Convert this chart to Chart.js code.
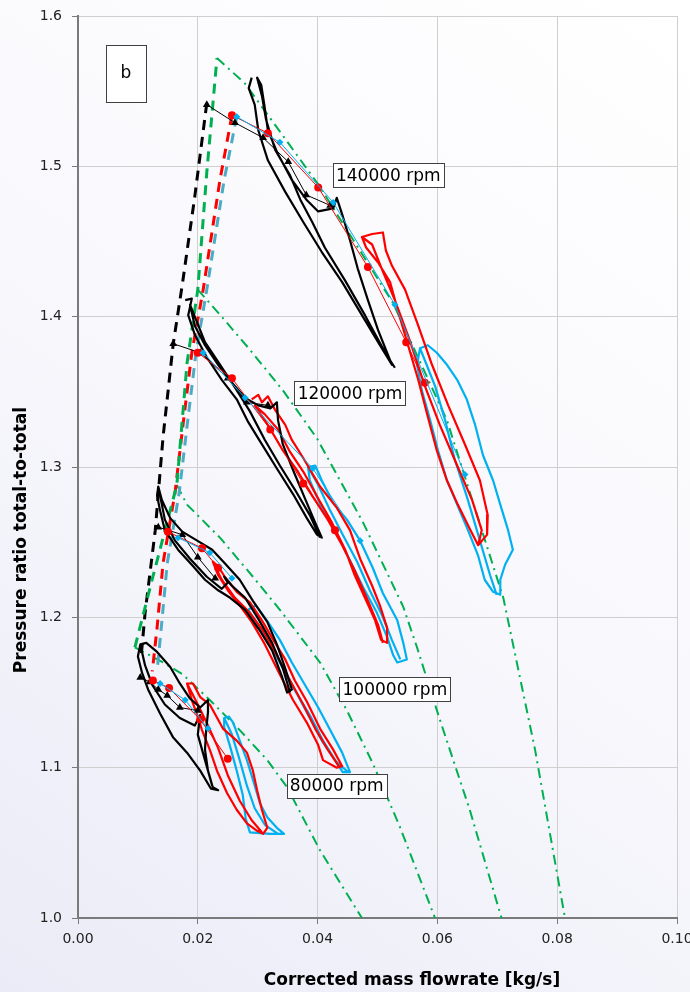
<!DOCTYPE html>
<html><head><meta charset="utf-8">
<script src="https://cdn.jsdelivr.net/npm/chart.js@4.4.1/dist/chart.umd.min.js"></script>
<style>html,body{margin:0;padding:0;background:#fff}#wrap{width:690px;height:992px}</style>
</head><body><div id="wrap"><canvas id="c" width="690" height="992"></canvas></div>
<script>
// ---- tick labels / text ----
const xTickValues = [0, 0.02, 0.04, 0.06, 0.08, 0.10];
const yTickValues = [1.0, 1.1, 1.2, 1.3, 1.4, 1.5, 1.6];
const xTitle = 'Corrected mass flowrate [kg/s]';
const yTitle = 'Pressure ratio total-to-total';
const rpmText = ['140000 rpm', '120000 rpm', '100000 rpm', '80000 rpm'];
const rpmX = [0.0518, 0.0454, 0.0529, 0.0432];
const rpmY = [1.494, 1.349, 1.152, 1.088];

// ---- speed lines (green dash-dot) ----
const speed80 = [[0.0095,1.180],[0.0142,1.170],[0.0175,1.162],[0.0220,1.145],[0.0270,1.125],[0.0316,1.105],[0.0349,1.087],[0.0404,1.045],[0.0474,1.000]];
const speed100 = [[0.0165,1.288],[0.0182,1.275],[0.0237,1.253],[0.0292,1.227],[0.0337,1.205],[0.0404,1.170],[0.0449,1.138],[0.0492,1.103],[0.0538,1.060],[0.0596,1.000]];
const speed120 = [[0.0200,1.418],[0.0242,1.399],[0.0287,1.378],[0.0342,1.351],[0.0399,1.319],[0.0476,1.263],[0.0543,1.207],[0.0566,1.180],[0.0604,1.132],[0.0654,1.072],[0.0707,1.000]];
const speed140 = [[0.0232,1.572],[0.0279,1.555],[0.0401,1.488],[0.0526,1.409],[0.0616,1.331],[0.0710,1.213],[0.0763,1.112],[0.0813,1.000]];

// ---- surge lines (dashed) ----
const surgeGreen = [[0.0095,1.180],[0.0125,1.227],[0.0165,1.288],[0.0182,1.369],[0.0200,1.418],[0.0215,1.496],[0.0232,1.572]];
const surgeBlack = [[0.0215,1.542],[0.0195,1.480],[0.0174,1.421],[0.0159,1.382],[0.0142,1.320],[0.0135,1.287],[0.0129,1.258],[0.0112,1.203],[0.0105,1.172]];
const surgeRed = [[0.0257,1.534],[0.0237,1.491],[0.0209,1.418],[0.0190,1.376],[0.0175,1.327],[0.0162,1.283],[0.0142,1.236],[0.0132,1.193],[0.0124,1.164]];
const surgeBlue = [[0.0265,1.533],[0.0244,1.491],[0.0215,1.418],[0.0197,1.376],[0.0182,1.327],[0.0169,1.283],[0.0149,1.236],[0.0139,1.193],[0.0132,1.164]];

// ---- steady-state points ----
const black140 = [[0.0215,1.541],[0.0262,1.529],[0.0309,1.519],[0.0351,1.503],[0.0381,1.481],[0.0421,1.474]];
const red140 = [[0.0257,1.534],[0.0317,1.522],[0.0401,1.486],[0.0484,1.433],[0.0548,1.383],[0.0579,1.356]];
const blue140 = [[0.0265,1.533],[0.0337,1.516],[0.0426,1.476],[0.0529,1.408],[0.0646,1.295]];
const black120 = [[0.0159,1.382],[0.0204,1.376],[0.0250,1.359],[0.0282,1.343],[0.0317,1.341]];
const red120 = [[0.0200,1.376],[0.0257,1.359],[0.0321,1.325],[0.0376,1.289],[0.0429,1.258]];
const blue120 = [[0.0209,1.376],[0.0279,1.346],[0.0392,1.299],[0.0471,1.251]];
const black100 = [[0.0134,1.260],[0.0174,1.255],[0.0200,1.240],[0.0229,1.226]];
const red100 = [[0.0150,1.257],[0.0207,1.246],[0.0234,1.233]];
const blue100 = [[0.0167,1.253],[0.0220,1.243],[0.0257,1.226]];
const black80 = [[0.0104,1.160],[0.0120,1.157],[0.0134,1.152],[0.0149,1.148],[0.0170,1.140],[0.0200,1.138]];
const red80 = [[0.0125,1.158],[0.0152,1.153],[0.0204,1.132],[0.0250,1.106]];
const blue80 = [[0.0137,1.156],[0.0179,1.145],[0.0217,1.126]];

// ---- pulsating-flow loops ----
const loopBlack140 = [[0.0290,1.559],[0.0285,1.552],[0.0295,1.541],[0.0301,1.524],[0.0317,1.504],[0.0346,1.483],[0.0376,1.463],[0.0407,1.443],[0.0441,1.423],[0.0471,1.403],[0.0501,1.383],[0.0524,1.368],[0.0518,1.374],[0.0501,1.391],[0.0484,1.411],[0.0467,1.432],[0.0454,1.451],[0.0441,1.468],[0.0432,1.479],[0.0426,1.472],[0.0401,1.470],[0.0381,1.478],[0.0357,1.491],[0.0334,1.508],[0.0317,1.524],[0.0311,1.541],[0.0306,1.554],[0.0299,1.559],[0.0307,1.547],[0.0314,1.531],[0.0329,1.511],[0.0354,1.494],[0.0371,1.478],[0.0391,1.463],[0.0412,1.446],[0.0446,1.424],[0.0479,1.401],[0.0513,1.376],[0.0529,1.366]];
const loopRed140 = [[0.0474,1.453],[0.0491,1.455],[0.0509,1.456],[0.0514,1.444],[0.0524,1.434],[0.0546,1.418],[0.0568,1.394],[0.0591,1.368],[0.0618,1.341],[0.0646,1.315],[0.0671,1.291],[0.0684,1.268],[0.0683,1.255],[0.0668,1.248],[0.0654,1.259],[0.0634,1.275],[0.0616,1.291],[0.0599,1.311],[0.0583,1.335],[0.0568,1.358],[0.0551,1.381],[0.0534,1.404],[0.0521,1.423],[0.0501,1.436],[0.0481,1.446],[0.0474,1.453],[0.0491,1.448],[0.0508,1.431],[0.0529,1.411],[0.0554,1.384],[0.0579,1.354],[0.0604,1.328],[0.0633,1.301],[0.0658,1.278],[0.0674,1.258],[0.0668,1.248]];
const loopBlue140 = [[0.0571,1.379],[0.0584,1.381],[0.0599,1.376],[0.0616,1.368],[0.0633,1.358],[0.0649,1.345],[0.0663,1.328],[0.0676,1.308],[0.0693,1.291],[0.0705,1.275],[0.0718,1.258],[0.0726,1.245],[0.0713,1.235],[0.0705,1.225],[0.0705,1.215],[0.0693,1.217],[0.0679,1.225],[0.0668,1.241],[0.0651,1.258],[0.0633,1.275],[0.0616,1.291],[0.0601,1.311],[0.0588,1.331],[0.0574,1.351],[0.0566,1.368],[0.0571,1.379],[0.0579,1.371],[0.0596,1.354],[0.0613,1.331],[0.0629,1.305],[0.0651,1.278],[0.0671,1.251],[0.0688,1.228],[0.0699,1.215]];
const loopBlack120 = [[0.0179,1.411],[0.0190,1.412],[0.0184,1.401],[0.0195,1.388],[0.0215,1.373],[0.0240,1.358],[0.0265,1.345],[0.0284,1.330],[0.0304,1.317],[0.0332,1.299],[0.0359,1.282],[0.0382,1.266],[0.0399,1.255],[0.0407,1.253],[0.0396,1.263],[0.0379,1.279],[0.0359,1.298],[0.0342,1.315],[0.0334,1.331],[0.0332,1.343],[0.0321,1.339],[0.0301,1.341],[0.0279,1.346],[0.0257,1.356],[0.0234,1.368],[0.0212,1.381],[0.0195,1.394],[0.0187,1.408],[0.0197,1.398],[0.0212,1.383],[0.0234,1.370],[0.0262,1.353],[0.0287,1.337],[0.0312,1.318],[0.0337,1.301],[0.0362,1.285],[0.0387,1.268],[0.0404,1.253]];
const loopRed120 = [[0.0290,1.345],[0.0301,1.348],[0.0307,1.343],[0.0317,1.347],[0.0329,1.338],[0.0346,1.328],[0.0357,1.318],[0.0376,1.306],[0.0404,1.287],[0.0432,1.273],[0.0454,1.258],[0.0471,1.239],[0.0491,1.221],[0.0504,1.208],[0.0516,1.193],[0.0516,1.183],[0.0506,1.185],[0.0496,1.198],[0.0479,1.213],[0.0462,1.228],[0.0446,1.245],[0.0424,1.263],[0.0401,1.279],[0.0376,1.297],[0.0354,1.310],[0.0334,1.325],[0.0312,1.335],[0.0295,1.341],[0.0317,1.328],[0.0342,1.311],[0.0367,1.297],[0.0391,1.281],[0.0417,1.265],[0.0441,1.248],[0.0462,1.231],[0.0484,1.211],[0.0501,1.195],[0.0509,1.183]];
const loopBlue120 = [[0.0384,1.300],[0.0396,1.301],[0.0407,1.291],[0.0426,1.276],[0.0449,1.265],[0.0471,1.251],[0.0492,1.233],[0.0509,1.216],[0.0533,1.198],[0.0543,1.183],[0.0549,1.172],[0.0533,1.170],[0.0526,1.175],[0.0516,1.187],[0.0499,1.203],[0.0476,1.220],[0.0454,1.238],[0.0432,1.256],[0.0409,1.271],[0.0387,1.291],[0.0384,1.300],[0.0401,1.288],[0.0421,1.271],[0.0442,1.255],[0.0466,1.237],[0.0487,1.218],[0.0508,1.201],[0.0524,1.185],[0.0538,1.172]];
const loopBlack100 = [[0.0134,1.287],[0.0140,1.278],[0.0154,1.266],[0.0174,1.257],[0.0199,1.251],[0.0224,1.245],[0.0245,1.236],[0.0270,1.225],[0.0292,1.211],[0.0316,1.197],[0.0332,1.182],[0.0346,1.166],[0.0357,1.152],[0.0349,1.150],[0.0341,1.160],[0.0324,1.178],[0.0304,1.191],[0.0279,1.205],[0.0254,1.213],[0.0234,1.218],[0.0212,1.225],[0.0190,1.235],[0.0167,1.245],[0.0145,1.258],[0.0137,1.271],[0.0132,1.281],[0.0134,1.287],[0.0145,1.265],[0.0162,1.251],[0.0187,1.239],[0.0215,1.227],[0.0240,1.219],[0.0250,1.223],[0.0244,1.227],[0.0257,1.221],[0.0279,1.213],[0.0301,1.199],[0.0324,1.183],[0.0342,1.166],[0.0354,1.150]];
const loopRed100 = [[0.0225,1.237],[0.0234,1.234],[0.0245,1.227],[0.0265,1.217],[0.0287,1.210],[0.0307,1.198],[0.0326,1.185],[0.0346,1.172],[0.0362,1.158],[0.0382,1.144],[0.0404,1.126],[0.0426,1.112],[0.0441,1.101],[0.0432,1.100],[0.0409,1.105],[0.0401,1.115],[0.0382,1.130],[0.0359,1.145],[0.0337,1.162],[0.0312,1.182],[0.0290,1.197],[0.0270,1.208],[0.0250,1.218],[0.0234,1.228],[0.0225,1.237],[0.0240,1.225],[0.0262,1.213],[0.0287,1.203],[0.0309,1.191],[0.0329,1.177],[0.0354,1.158],[0.0376,1.142],[0.0396,1.126],[0.0417,1.112],[0.0437,1.100]];
const loopBlue100 = [[0.0284,1.205],[0.0297,1.208],[0.0317,1.197],[0.0337,1.185],[0.0357,1.170],[0.0379,1.155],[0.0401,1.140],[0.0421,1.125],[0.0441,1.110],[0.0454,1.097],[0.0442,1.097],[0.0429,1.105],[0.0407,1.118],[0.0387,1.133],[0.0367,1.148],[0.0346,1.164],[0.0326,1.178],[0.0307,1.190],[0.0287,1.199],[0.0284,1.205],[0.0301,1.195],[0.0321,1.182],[0.0342,1.166],[0.0364,1.150],[0.0387,1.135],[0.0409,1.118],[0.0431,1.104],[0.0451,1.097]];
const loopBlack80 = [[0.0104,1.182],[0.0114,1.183],[0.0132,1.177],[0.0154,1.167],[0.0170,1.156],[0.0187,1.146],[0.0204,1.140],[0.0217,1.145],[0.0217,1.137],[0.0214,1.125],[0.0212,1.112],[0.0217,1.098],[0.0225,1.087],[0.0234,1.085],[0.0222,1.086],[0.0204,1.098],[0.0182,1.110],[0.0159,1.120],[0.0137,1.136],[0.0117,1.152],[0.0107,1.163],[0.0100,1.174],[0.0104,1.182],[0.0112,1.168],[0.0124,1.155],[0.0145,1.142],[0.0170,1.133],[0.0195,1.128],[0.0204,1.135],[0.0200,1.122],[0.0212,1.105],[0.0224,1.088]];
const loopRed80 = [[0.0182,1.156],[0.0192,1.156],[0.0204,1.147],[0.0220,1.142],[0.0242,1.126],[0.0265,1.118],[0.0282,1.110],[0.0292,1.098],[0.0299,1.085],[0.0307,1.072],[0.0316,1.060],[0.0309,1.056],[0.0299,1.058],[0.0282,1.063],[0.0265,1.072],[0.0249,1.083],[0.0232,1.098],[0.0220,1.112],[0.0207,1.125],[0.0200,1.134],[0.0190,1.145],[0.0182,1.156],[0.0200,1.142],[0.0217,1.128],[0.0234,1.113],[0.0250,1.095],[0.0270,1.078],[0.0290,1.065],[0.0307,1.057]];
const loopBlue80 = [[0.0244,1.133],[0.0252,1.134],[0.0259,1.130],[0.0270,1.118],[0.0282,1.105],[0.0292,1.092],[0.0304,1.076],[0.0316,1.067],[0.0332,1.060],[0.0344,1.056],[0.0321,1.056],[0.0287,1.057],[0.0280,1.066],[0.0275,1.082],[0.0265,1.098],[0.0254,1.114],[0.0245,1.126],[0.0244,1.133],[0.0257,1.122],[0.0270,1.105],[0.0282,1.088],[0.0295,1.073],[0.0312,1.062],[0.0334,1.056]];

// ---- styling ----
const GREEN = '#00b050', RED = '#ff0000', BLUE = '#00b0f0', BLUEDASH = '#4bacc6', BLACK = '#000000';
const FONT = '"DejaVu Sans", Verdana, sans-serif';
const P = a => a.map(p => ({x: p[0], y: p[1]}));
function speedDs(d){ return {data:P(d), showLine:true, borderColor:GREEN, borderWidth:2, borderDash:[10,5,2,5], pointRadius:0, order:9}; }
function surgeDs(d,c){ return {data:P(d), showLine:true, borderColor:c, borderWidth:3, borderDash:[10,7], pointRadius:0, order:8}; }
function loopDs(d,c,o){ return {data:P(d), showLine:true, borderColor:c, borderWidth:2.2, pointRadius:0, order:o, borderJoinStyle:'round'}; }
function steadyDs(d,c,st,r){ return {data:P(d), showLine:true, borderColor:c, borderWidth:1, pointStyle:st, pointRadius:r, pointBackgroundColor:c, pointBorderColor:c, pointBorderWidth:0, order:1}; }

const datasets = [
  speedDs(speed80), speedDs(speed100), speedDs(speed120), speedDs(speed140),
  surgeDs(surgeGreen, GREEN), surgeDs(surgeBlue, BLUEDASH), surgeDs(surgeRed, RED), surgeDs(surgeBlack, BLACK),
  loopDs(loopBlue140, BLUE, 6), loopDs(loopBlue120, BLUE, 6), loopDs(loopBlue100, BLUE, 6), loopDs(loopBlue80, BLUE, 6),
  loopDs(loopRed140, RED, 5), loopDs(loopRed120, RED, 5), loopDs(loopRed100, RED, 5), loopDs(loopRed80, RED, 5),
  loopDs(loopBlack140, BLACK, 4), loopDs(loopBlack120, BLACK, 4), loopDs(loopBlack100, BLACK, 4), loopDs(loopBlack80, BLACK, 4),
  steadyDs(blue140, BLUE, 'rectRot', 3.5), steadyDs(blue120, BLUE, 'rectRot', 3.5), steadyDs(blue100, BLUE, 'rectRot', 3.5), steadyDs(blue80, BLUE, 'rectRot', 3.5),
  steadyDs(red140, RED, 'circle', 4), steadyDs(red120, RED, 'circle', 4), steadyDs(red100, RED, 'circle', 4), steadyDs(red80, RED, 'circle', 4),
  steadyDs(black140, BLACK, 'triangle', 4.5), steadyDs(black120, BLACK, 'triangle', 4.5), steadyDs(black100, BLACK, 'triangle', 4.5), steadyDs(black80, BLACK, 'triangle', 4.5)
];

const bgPlugin = {
  id: 'bg',
  beforeDraw(chart){
    const {ctx, width, height} = chart;
    const g = ctx.createLinearGradient(0, height, width, 0);
    g.addColorStop(0, '#ebebf7');
    g.addColorStop(0.55, '#f9f9fd');
    g.addColorStop(1, '#ffffff');
    ctx.save(); ctx.fillStyle = g; ctx.fillRect(0, 0, width, height); ctx.restore();
  }
};

const titlePlugin = {
  id: 'axisTitles',
  afterDraw(chart){
    const {ctx} = chart;
    ctx.save();
    ctx.fillStyle = '#000';
    ctx.font = 'bold 17px ' + FONT;
    ctx.textAlign = 'center'; ctx.textBaseline = 'middle';
    ctx.fillText(xTitle, 412, 981);
    ctx.translate(22, 540); ctx.rotate(-Math.PI/2);
    ctx.fillText(yTitle, 0, 0);
    ctx.restore();
  }
};

const labelPlugin = {
  id: 'rpmLabels',
  afterDatasetsDraw(chart){
    const {ctx, scales:{x, y}} = chart;
    ctx.save();
    ctx.font = '17px ' + FONT;
    ctx.textBaseline = 'middle'; ctx.textAlign = 'center';
    rpmText.forEach((t, i) => {
      const px = x.getPixelForValue(rpmX[i]), py = y.getPixelForValue(rpmY[i]);
      const w = Math.round(ctx.measureText(t).width + 6), h = 24;
      const l = Math.round(px - w/2), tp = Math.round(py - h/2);
      ctx.fillStyle = '#ffffff'; ctx.fillRect(l, tp, w, h);
      ctx.strokeStyle = '#404040'; ctx.lineWidth = 1; ctx.strokeRect(l + 0.5, tp + 0.5, w, h);
      ctx.fillStyle = '#000'; ctx.fillText(t, px, py + 1);
    });
    // panel letter box
    const bl = Math.round(x.getPixelForValue(0.0047)), br = Math.round(x.getPixelForValue(0.0114));
    const bt = Math.round(y.getPixelForValue(1.581)), bb = Math.round(y.getPixelForValue(1.543));
    ctx.fillStyle = '#ffffff'; ctx.fillRect(bl, bt, br - bl, bb - bt);
    ctx.strokeStyle = '#404040'; ctx.strokeRect(bl + 0.5, bt + 0.5, br - bl, bb - bt);
    ctx.fillStyle = '#000'; ctx.fillText('b', (bl + br)/2, (bt + bb)/2);
    ctx.restore();
  }
};

new Chart(document.getElementById('c'), {
  type: 'scatter',
  data: {datasets},
  plugins: [bgPlugin, labelPlugin, titlePlugin],
  options: {
    responsive: false, animation: false, devicePixelRatio: 1,
    layout: {padding: {top: 16, right: 13, left: 0, bottom: 0}},
    plugins: {legend: {display: false}, tooltip: {enabled: false}},
    elements: {line: {tension: 0}},
    scales: {
      x: {
        type: 'linear', min: 0, max: 0.10,
        afterBuildTicks(s){ s.ticks = xTickValues.map(v => ({value: v})); },
        afterFit(s){ s.height = 74; s.paddingLeft = 0; s.paddingRight = 0; },
        ticks: {callback: v => Number(v).toFixed(2), color: '#222', font: {family: FONT, size: 14}, padding: 7, maxRotation: 0},
        grid: {color: '#cfcfcf', lineWidth: 1, tickLength: 6, tickColor: '#7a7a7a'},
        border: {color: '#7a7a7a', width: 2},
        title: {display: false, text: xTitle}
      },
      y: {
        type: 'linear', min: 1.0, max: 1.6,
        afterBuildTicks(s){ s.ticks = yTickValues.map(v => ({value: v})); },
        afterFit(s){ s.width = 78; s.paddingTop = 0; s.paddingBottom = 0; },
        ticks: {callback: v => Number(v).toFixed(1), color: '#222', font: {family: FONT, size: 14}, padding: 10},
        grid: {color: '#cfcfcf', lineWidth: 1, tickLength: 6, tickColor: '#7a7a7a'},
        border: {color: '#7a7a7a', width: 2},
        title: {display: false, text: yTitle}
      }
    }
  }
});
</script>
</body></html>
